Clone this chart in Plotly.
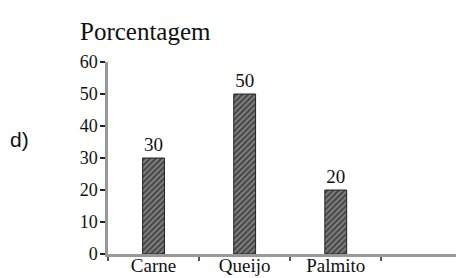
import plotly.graph_objects as go

categories = ["Carne", "Queijo", "Palmito"]
values = [30, 50, 20]
value_labels = ["30", "50", "20"]
y_ticks = [0, 10, 20, 30, 40, 50, 60]
y_title = "Porcentagem"
item_label = "d)"

serif = "Liberation Serif, Times New Roman, serif"

fig = go.Figure(
    go.Bar(
        x=categories,
        y=values,
        text=value_labels,
        textposition="outside",
        textfont=dict(family=serif, size=19, color="#111"),
        width=0.24,
        marker=dict(
            color="#555",
            line=dict(color="#222", width=1),
            pattern=dict(shape="/", fgcolor="#d8d8d8", bgcolor="#4a4a4a", size=4, solidity=0.35),
        ),
        cliponaxis=False,
    )
)

fig.update_layout(
    width=456,
    height=278,
    margin=dict(l=108, r=0, t=62, b=24),
    paper_bgcolor="white",
    plot_bgcolor="white",
    showlegend=False,
    xaxis=dict(
        type="category",
        automargin=False,
        range=[-0.5, 3.32],
        tickson="boundaries",
        ticks="outside",
        ticklen=4,
        tickwidth=1.5,
        tickcolor="#555",
        showline=True,
        linecolor="#999",
        linewidth=2.5,
        showgrid=False,
        zeroline=False,
        ticklabelstandoff=-8,
        tickfont=dict(family=serif, size=19, color="#111"),
    ),
    yaxis=dict(
        automargin=False,
        range=[0, 60],
        tickvals=y_ticks,
        ticks="outside",
        ticklen=5,
        tickwidth=2,
        tickcolor="#222",
        showline=True,
        linecolor="#999",
        linewidth=2.5,
        showgrid=False,
        zeroline=False,
        ticklabelstandoff=-1,
        tickfont=dict(family=serif, size=18, color="#111"),
    ),
    annotations=[
        dict(
            text=y_title, xref="paper", yref="paper", x=0.109, y=1.161,
            xanchor="center", yanchor="middle", showarrow=False,
            font=dict(family=serif, size=25, color="#111"),
        ),
        dict(
            text=item_label, xref="paper", yref="paper", x=-0.253, y=0.594,
            xanchor="center", yanchor="middle", showarrow=False,
            font=dict(family="Liberation Sans, Arial, sans-serif", size=21, color="#111"),
        ),
    ],
)

fig.write_html(
    "out.html",
    config={"displayModeBar": False},
    post_script="document.body.style.margin='0';document.body.style.overflow='hidden';",
)
